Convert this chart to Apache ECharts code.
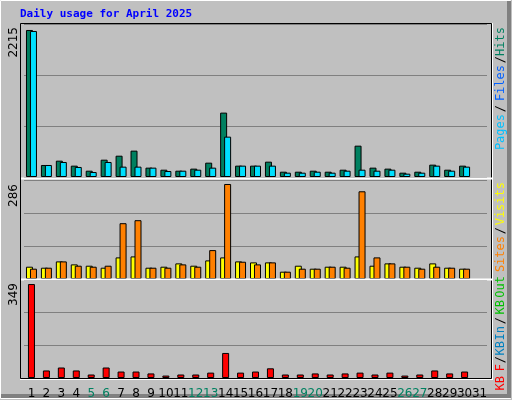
<!DOCTYPE html>
<html><head><meta charset="utf-8">
<script src="https://cdn.jsdelivr.net/npm/echarts@6/dist/echarts.min.js"></script>
<style>html,body{margin:0;padding:0;background:#c0c0c0}#c{width:512px;height:400px}</style>
</head><body><div id="c"></div>
<script>
const days = Array.from({length:31},(_,i)=>String(i+1));
const weekend = ['5','6','12','13','19','20','26','27'];
const hits  = [2215,181,246,171,95,261,321,397,141,110,95,126,216,970,171,171,231,80,80,95,80,110,472,141,126,65,80,186,110,171,0];
const pages = [2200,181,226,151,75,226,156,156,141,90,95,110,141,608,171,171,171,65,65,80,65,95,110,95,110,50,65,171,95,156,0];
const visits= [37,34,53,44,40,34,65,68,34,37,47,40,56,65,53,50,50,22,40,31,37,37,68,40,47,37,34,47,34,31,0];
const sites = [31,34,53,40,37,40,168,177,34,34,44,37,87,286,52,44,50,22,31,31,37,34,264,65,47,37,31,37,34,31,0];
const kbytes= [349,28,39,28,13,39,24,24,17,9,13,13,20,93,20,24,36,13,13,17,13,17,20,13,20,9,13,28,17,24,0];
const maxLabels = ['2215','286','349'];

const nz = a=>a.map(v=>v===0?null:v);
const chart = echarts.init(document.getElementById('c'));
const grids = [{left:24,width:463,top:24,height:153},{left:24,width:463,top:180,height:99},{left:24,width:463,top:280,height:98}];
const ymax = [2305,298,364];
const bs = c=>({color:c,borderColor:'#000',borderWidth:1});
const txt = (x,y,t,c)=>({type:'text',x,y,rotation:Math.PI/2,style:{text:t,fill:c,font:'12px "DejaVu Sans Mono"',textAlign:'right',textVerticalAlign:'middle'}});
chart.setOption({
  animation:false,
  backgroundColor:'#c0c0c0',
  grid:grids,
  xAxis:grids.map((g,i)=>({type:'category',gridIndex:i,data:days,
    axisLine:{show:false},axisTick:{show:false},
    axisLabel:{show:i===2,margin:10,interval:0,fontSize:12,fontFamily:'DejaVu Sans',
      color:(v)=>weekend.includes(v)?'#008060':'#000'}})),
  yAxis:grids.map((g,i)=>({type:'value',gridIndex:i,min:0,max:ymax[i],interval:ymax[i]/3,
    axisLabel:{show:false},axisLine:{show:false},axisTick:{show:false},
    splitLine:{lineStyle:{color:'#808080',width:1}}})),
  series:[
    {type:'bar',data:nz(hits),xAxisIndex:0,yAxisIndex:0,barWidth:7,barGap:'-43%',itemStyle:bs('#008060')},
    {type:'bar',data:nz(pages),xAxisIndex:0,yAxisIndex:0,barWidth:7,barGap:'-43%',itemStyle:bs('#00e0ff')},
    {type:'bar',data:nz(visits),xAxisIndex:1,yAxisIndex:1,barWidth:7,barGap:'-43%',itemStyle:bs('#ffff00')},
    {type:'bar',data:nz(sites),xAxisIndex:1,yAxisIndex:1,barWidth:7,barGap:'-43%',itemStyle:bs('#ff8000')},
    {type:'bar',data:nz(kbytes),xAxisIndex:2,yAxisIndex:2,barWidth:7,itemStyle:bs('#ff0000')}
  ],
  graphic:[
    {type:'rect',shape:{x:0.5,y:0.5,width:510,height:398},style:{fill:'none',stroke:'#fff',lineWidth:1},z:-1},
    {type:'polyline',shape:{points:[[1,396],[509,396],[509,1]]},style:{stroke:'#808080',lineWidth:4,fill:'none'}},
    {type:'rect',shape:{x:20.5,y:23.5,width:471,height:355},style:{fill:'none',stroke:'#000',lineWidth:1},z:10},
    {type:'line',shape:{x1:21,y1:178.5,x2:492,y2:178.5},style:{stroke:'#fff',lineWidth:2},z:10},
    {type:'line',shape:{x1:21,y1:279.5,x2:492,y2:279.5},style:{stroke:'#fff',lineWidth:2},z:10},
    {type:'line',shape:{x1:492.5,y1:23,x2:492.5,y2:379},style:{stroke:'#fff',lineWidth:1},z:10},
    {type:'line',shape:{x1:20,y1:379.5,x2:493,y2:379.5},style:{stroke:'#fff',lineWidth:1},z:10},
    {type:'text',x:20,y:9,style:{text:'Daily usage for April 2025',fill:'#0000ff',font:'bold 11px "DejaVu Sans Mono"'}},
    {type:'text',x:14,y:27,rotation:Math.PI/2,style:{text:maxLabels[0],fill:'#000',font:'12px "DejaVu Sans"',textAlign:'right',textVerticalAlign:'middle'}},
    {type:'text',x:14,y:184,rotation:Math.PI/2,style:{text:maxLabels[1],fill:'#000',font:'12px "DejaVu Sans"',textAlign:'right',textVerticalAlign:'middle'}},
    {type:'text',x:14,y:283,rotation:Math.PI/2,style:{text:maxLabels[2],fill:'#000',font:'12px "DejaVu Sans"',textAlign:'right',textVerticalAlign:'middle'}},
    txt(501,27,'Hits','#008060'), txt(501,56,'/','#000'), txt(501,65,'Files','#0060ff'), txt(501,105,'/','#000'), txt(501,114,'Pages','#00c0ff'),
    txt(501,182,'Visits','#ffff00'), txt(501,227,'/','#000'), txt(501,236,'Sites','#ff8000'), txt(501,276,'Out','#00c000'),
    txt(501,300,'KB','#00c000'), txt(501,317,'/','#000'), txt(501,326,'In','#0080c0'), txt(501,341,'KB','#0080c0'),
    txt(501,356,'/','#000'), txt(501,364,'F','#ff0000'), txt(501,376,'KB','#ff0000')
  ]
});
</script></body></html>
